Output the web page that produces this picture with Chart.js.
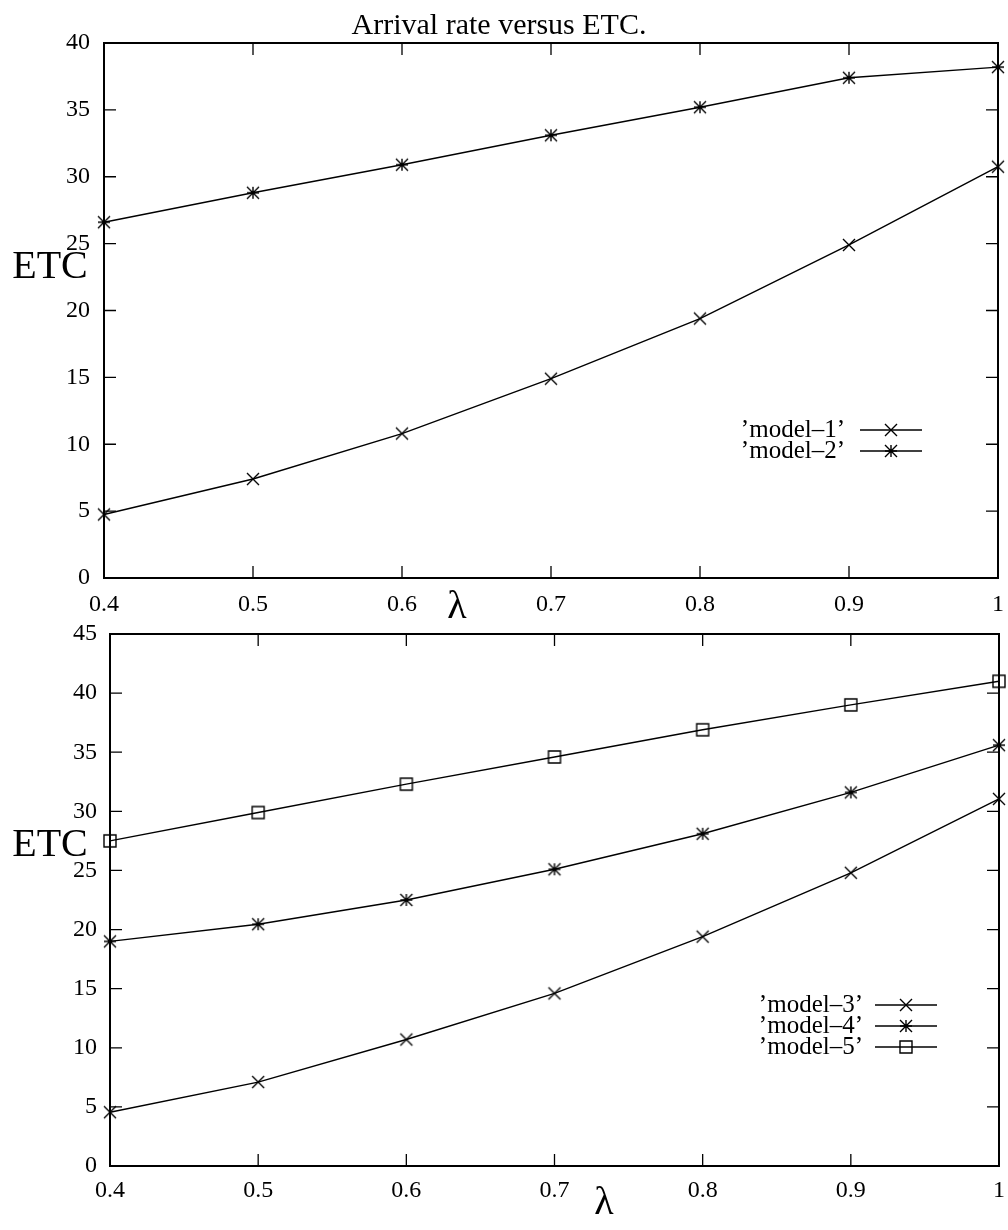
<!DOCTYPE html>
<html lang="en">
<head>
    <meta charset="UTF-8">
    <title>Arrival rate versus ETC.</title>
    <script src="https://cdn.jsdelivr.net/npm/chart.js"></script>
    <style>
        body { margin: 0; background: #fff; }
        canvas { position: absolute; left: 0; }
        #chartTop { top: 0; }
        #chartBottom { top: 620px; }
    </style>
</head>
<body>
    <canvas id="chartTop" width="1008" height="630"></canvas>
    <canvas id="chartBottom" width="1008" height="610"></canvas>

    <script>
        // data
        const lambdas = [0.4, 0.5, 0.6, 0.7, 0.8, 0.9, 1.0];
        const xTickLabels = ["0.4", "0.5", "0.6", "0.7", "0.8", "0.9", "1"];
        const topYTicks = [0, 5, 10, 15, 20, 25, 30, 35, 40];
        const bottomYTicks = [0, 5, 10, 15, 20, 25, 30, 35, 40, 45];

        const model1 = [4.75, 7.4, 10.8, 14.9, 19.4, 24.9, 30.75];
        const model2 = [26.6, 28.8, 30.9, 33.1, 35.2, 37.4, 38.2];
        const model3 = [4.55, 7.1, 10.7, 14.6, 19.4, 24.8, 31.05];
        const model4 = [19.0, 20.45, 22.5, 25.1, 28.1, 31.6, 35.6];
        const model5 = [27.5, 29.9, 32.3, 34.6, 36.9, 39.0, 41.0];

        const FONT = '"Liberation Serif", "DejaVu Serif", serif';

        // gnuplot style markers as small canvases
        function makeMarker(kind) {
            const c = document.createElement("canvas");
            c.width = 18; c.height = 18;
            const g = c.getContext("2d");
            const m = 9, s = 6;
            g.strokeStyle = "#000";
            g.lineWidth = 1.4;
            g.beginPath();
            if (kind === "x" || kind === "star") {
                g.moveTo(m - s, m - s); g.lineTo(m + s, m + s);
                g.moveTo(m - s, m + s); g.lineTo(m + s, m - s);
            }
            if (kind === "star") {
                g.moveTo(m - s, m); g.lineTo(m + s, m);
                g.moveTo(m, m - s); g.lineTo(m, m + s);
            }
            if (kind === "square") {
                g.rect(m - s, m - s, 2 * s, 2 * s);
            }
            g.stroke();
            return c;
        }
        const markers = { x: makeMarker("x"), star: makeMarker("star"), square: makeMarker("square") };

        function series(label, values, kind) {
            return {
                label: label,
                data: lambdas.map((x, i) => ({ x: x, y: values[i] })),
                borderColor: "#000",
                borderWidth: 1.4,
                pointStyle: markers[kind],
                pointRadius: 6,
                pointHoverRadius: 6,
                clip: false,
                tension: 0
            };
        }

        // frame with inward ticks on all four sides, axis titles and legend
        const framePlugin = {
            id: "frame",
            beforeDatasetsDraw(chart, args, opts) {
                const { ctx, chartArea: a, scales } = chart;
                const x = scales.x, y = scales.y;
                ctx.save();
                ctx.strokeStyle = "#000";
                ctx.lineWidth = 1.3;
                ctx.beginPath();
                x.ticks.forEach(t => {
                    const px = x.getPixelForValue(t.value);
                    ctx.moveTo(px, a.bottom); ctx.lineTo(px, a.bottom - 12);
                    ctx.moveTo(px, a.top); ctx.lineTo(px, a.top + 12);
                });
                y.ticks.forEach(t => {
                    const py = y.getPixelForValue(t.value);
                    ctx.moveTo(a.left, py); ctx.lineTo(a.left + 12, py);
                    ctx.moveTo(a.right, py); ctx.lineTo(a.right - 12, py);
                });
                ctx.stroke();
                ctx.lineWidth = 2;
                ctx.strokeRect(a.left, a.top, a.right - a.left, a.bottom - a.top);

                ctx.fillStyle = "#000";
                ctx.textAlign = "center";
                ctx.textBaseline = "middle";
                ctx.font = "40px " + FONT;
                ctx.fillText("ETC", opts.yTitle[0], opts.yTitle[1]);
                ctx.fillText("\u03bb", opts.xTitle[0], opts.xTitle[1]);

                // legend
                ctx.font = "25px " + FONT;
                ctx.textAlign = "right";
                ctx.lineWidth = 1.4;
                chart.data.datasets.forEach((ds, i) => {
                    const ly = opts.legend.top + i * 21;
                    const lx = opts.legend.right;
                    ctx.fillText(ds.label, lx, ly);
                    ctx.beginPath();
                    ctx.moveTo(lx + opts.legend.gap, ly);
                    ctx.lineTo(lx + opts.legend.gap + 62, ly);
                    ctx.stroke();
                    ctx.drawImage(ds.pointStyle, lx + opts.legend.gap + 31 - 9, ly - 9);
                });
                ctx.restore();
            }
        };

        function makeChart(id, datasets, yTicks, o) {
            return new Chart(document.getElementById(id), {
                type: "line",
                data: { datasets: datasets },
                plugins: [framePlugin],
                options: {
                    responsive: false,
                    animation: false,
                    events: [],
                    layout: { padding: { left: 0, right: o.padRight, top: o.padTop, bottom: 0 } },
                    plugins: {
                        legend: { display: false },
                        tooltip: { enabled: false },
                        title: o.title ? {
                            display: true,
                            text: o.title,
                            color: "#000",
                            font: { family: FONT, size: 30, weight: "normal", lineHeight: 1.1 },
                            padding: { top: 10, bottom: 0 }
                        } : { display: false },
                        frame: o.frame
                    },
                    scales: {
                        x: {
                            type: "linear",
                            min: 0.4,
                            max: 1.0,
                            grid: { display: false, drawTicks: false },
                            border: { display: false },
                            afterBuildTicks: s => { s.ticks = lambdas.map(v => ({ value: v })); },
                            afterFit: s => {
                                s.height = o.xHeight;
                                s.paddingLeft = 0;
                                s.paddingRight = 0;
                            },
                            ticks: {
                                autoSkip: false,
                                maxRotation: 0,
                                padding: o.xPad,
                                color: "#000",
                                font: { family: FONT, size: 24 },
                                callback: (v, i) => xTickLabels[i]
                            }
                        },
                        y: {
                            min: yTicks[0],
                            max: yTicks[yTicks.length - 1],
                            grid: { display: false, drawTicks: false },
                            border: { display: false },
                            afterBuildTicks: s => { s.ticks = yTicks.map(v => ({ value: v })); },
                            afterFit: s => {
                                s.width = o.yWidth;
                                s.paddingTop = 0;
                                s.paddingBottom = 0;
                            },
                            ticks: {
                                padding: o.yPad,
                                color: "#000",
                                font: { family: FONT, size: 24 },
                                callback: v => String(v)
                            }
                        }
                    }
                }
            });
        }

        makeChart("chartTop", [
            series("\u2019model\u20131\u2019", model1, "x"),
            series("\u2019model\u20132\u2019", model2, "star")
        ], topYTicks, {
            title: "Arrival rate versus ETC.",
            padTop: 0, padRight: 10,
            xHeight: 52, yWidth: 104, xPad: 12, yPad: 14,
            frame: { yTitle: [50, 267], xTitle: [457, 607], legend: { right: 845, top: 430, gap: 15 } }
        });

        makeChart("chartBottom", [
            series("\u2019model\u20133\u2019", model3, "x"),
            series("\u2019model\u20134\u2019", model4, "star"),
            series("\u2019model\u20135\u2019", model5, "square")
        ], bottomYTicks, {
            title: null,
            padTop: 14, padRight: 9,
            xHeight: 64, yWidth: 110, xPad: 10, yPad: 13,
            frame: { yTitle: [50, 225], xTitle: [604, 583], legend: { right: 863, top: 385, gap: 12 } }
        });
    </script>
</body>
</html>
